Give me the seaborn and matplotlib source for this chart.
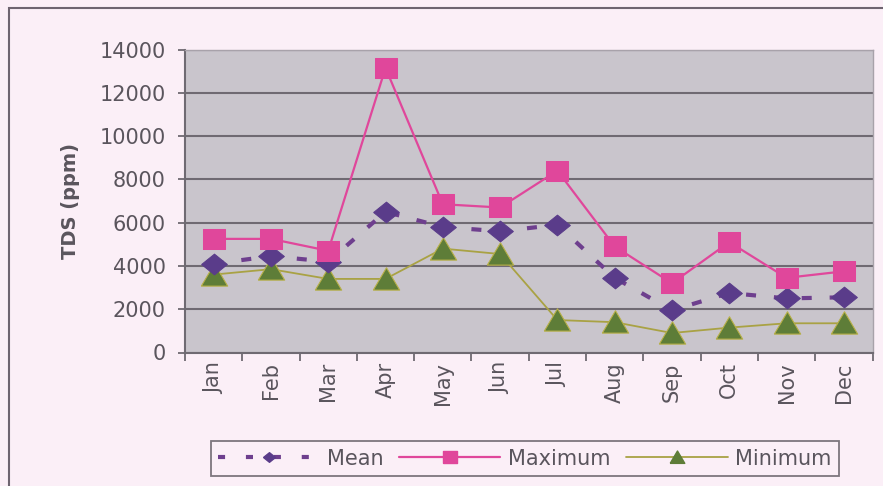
import matplotlib
matplotlib.use("Agg")
import matplotlib.pyplot as plt
from matplotlib.patches import Rectangle
from matplotlib.lines import Line2D
import seaborn as sns
import pandas as pd

months = ["Jan", "Feb", "Mar", "Apr", "May", "Jun",
          "Jul", "Aug", "Sep", "Oct", "Nov", "Dec"]
tds_mean = [4100, 4450, 4200, 6500, 5800, 5600, 5900, 3450, 1950, 2750, 2500, 2550]
tds_max = [5250, 5250, 4700, 13150, 6850, 6700, 8400, 4900, 3200, 5100, 3450, 3750]
tds_min = [3600, 3850, 3400, 3400, 4800, 4550, 1500, 1400, 900, 1150, 1350, 1350]
y_ticks = [0, 2000, 4000, 6000, 8000, 10000, 12000, 14000]

sns.set_theme(style="white")
plt.rcParams["font.family"] = ["DejaVu Sans"]

page_bg = "#FBEFF7"
plot_bg = "#C9C5CC"
grid_col = "#6F6A72"
text_col = "#5A555D"

c_mean = "#5A3C8A"
c_mean_line = "#6E3F8E"
c_max = "#E0479B"
c_min_mark = "#5E7D38"
c_min_line = "#A9A244"

# slightly wide marker shapes
diamond = [(-1.24, 0), (0, 1), (1.24, 0), (0, -1), (-1.24, 0)]
square = [(-1.15, -1), (1.15, -1), (1.15, 1), (-1.15, 1), (-1.15, -1)]
triangle = [(-1.18, -0.95), (1.18, -0.95), (0, 1.05), (-1.18, -0.95)]

fig = plt.figure(figsize=(8.83, 4.86), dpi=100, facecolor=page_bg)
ax = fig.add_axes([185 / 883, 1 - 352.5 / 486, (872.5 - 185) / 883, (352.5 - 49.5) / 486])
ax.set_facecolor(plot_bg)

df = pd.DataFrame({"month": months, "Mean": tds_mean,
                   "Maximum": tds_max, "Minimum": tds_min})

sns.lineplot(data=df, x="month", y="Minimum", ax=ax, color=c_min_line, lw=1.3,
             marker=triangle, markersize=19, markerfacecolor=c_min_mark,
             markeredgecolor="#B8B048", markeredgewidth=0.8, zorder=3)
sns.lineplot(data=df, x="month", y="Mean", ax=ax, color=c_mean_line, lw=3,
             ls=(0, (2.4, 4.3)), marker=diamond, markersize=18.5,
             markerfacecolor=c_mean, markeredgecolor=c_mean, zorder=4)
sns.lineplot(data=df, x="month", y="Maximum", ax=ax, color=c_max, lw=1.6,
             marker=square, markersize=16.5, markerfacecolor=c_max,
             markeredgecolor=c_max, zorder=5)

ax.set_xlim(-0.5, 11.5)
ax.set_ylim(0, 14000)
ax.set_yticks(y_ticks)
ax.set_yticklabels([str(v) for v in y_ticks])
ax.set_xticks(range(len(months)))
ax.set_xticklabels(months, rotation=90)
ax.set_xlabel("")
ax.set_ylabel("TDS (ppm)", fontsize=14, fontweight="bold", color=text_col, labelpad=14)

ax.grid(axis="y", color=grid_col, lw=1.5, zorder=1)
ax.set_axisbelow(True)
for side in ["top", "right"]:
    ax.spines[side].set_color("#A8A2AA")
    ax.spines[side].set_linewidth(1.0)
for side in ["left", "bottom"]:
    ax.spines[side].set_color(grid_col)
    ax.spines[side].set_linewidth(1.5)

ax.tick_params(axis="y", which="major", length=5, width=1.3, color=grid_col,
               labelsize=15, labelcolor=text_col, pad=9, left=True)
# ticks sit between categories on the month axis
ax.set_xticks([i + 0.5 for i in range(-1, 12)], minor=True)
ax.tick_params(axis="x", which="major", length=0, labelsize=15,
               labelcolor=text_col, pad=7)
ax.tick_params(axis="x", which="minor", length=6, width=1.3, color=grid_col,
               bottom=True)

handles = [
    Line2D([], [], color=c_mean_line, lw=3, dashes=(1.7, 5.0), marker=diamond,
           markersize=8.6, markerfacecolor=c_mean, markeredgecolor=c_mean),
    Line2D([], [], color=c_max, lw=1.6, marker=square, markersize=10,
           markerfacecolor=c_max, markeredgecolor=c_max),
    Line2D([], [], color=c_min_line, lw=1.3, marker=triangle, markersize=10.5,
           markerfacecolor=c_min_mark, markeredgecolor=c_min_mark),
]
leg = fig.legend(handles, ["Mean", "Maximum", "Minimum"], loc="center",
                 bbox_to_anchor=(525 / 883, 1 - 458.5 / 486), ncol=3,
                 fontsize=15, frameon=True, fancybox=False, handlelength=4.85,
                 handletextpad=0.38, columnspacing=0.75, borderpad=0.35,
                 labelcolor=text_col)
leg.get_frame().set_edgecolor("#5E585F")
leg.get_frame().set_linewidth(1.3)
leg.get_frame().set_facecolor(page_bg)

# outer chart border
fig.patches.append(Rectangle((9 / 883, -0.1), 1.2, 1 - 8 / 486 + 0.1,
                             transform=fig.transFigure, fill=False,
                             edgecolor="#6E6470", lw=1.5))

fig.savefig("out.png", dpi=100, facecolor=page_bg)
